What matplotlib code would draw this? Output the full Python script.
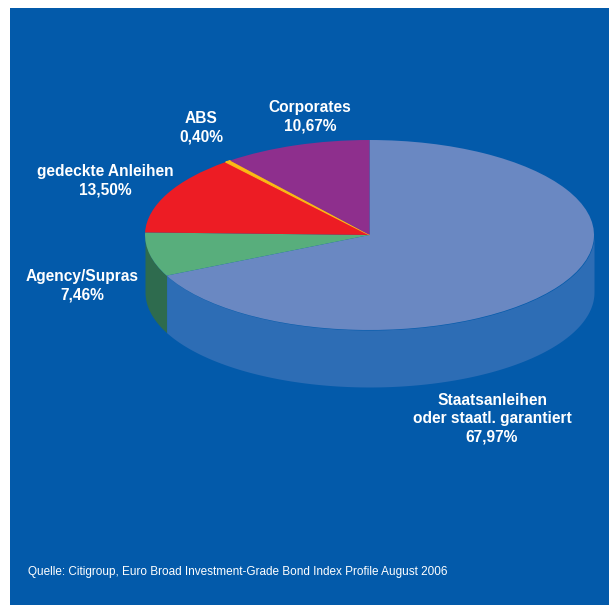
import numpy as np
import matplotlib
matplotlib.use("Agg")
import matplotlib.pyplot as plt
from matplotlib.patches import Rectangle

plt.rcParams['font.family'] = ['Liberation Sans', 'DejaVu Sans']

W, H = 609, 605

labels = ["Staatsanleihen\noder staatl. garantiert\n67,97%", "Agency/Supras\n7,46%",
          "gedeckte Anleihen\n13,50%", "ABS\n0,40%", "Corporates\n10,67%"]
values = [67.97, 7.46, 13.50, 0.40, 10.67]
top_colors = ["#6a88c2", "#58ae7c", "#ed1c24", "#fdb913", "#8e2f8d"]
side_colors = ["#2d6db5", "#2e6b4e", "#b01218", "#b08010", "#5e1f5e"]
label_pos = [(492, 419), (82, 285.5), (105, 180.5), (201, 127.5), (310, 116.5)]

# pie ellipse in pixels
cx, cy, rx, ry, depth = 369.5, 235, 224.5, 95, 57

fig = plt.figure(figsize=(W / 100, H / 100), dpi=100, facecolor="white")
fig.patches.append(Rectangle((10 / W, 0), 1 - 10 / W, 1 - 8 / H, transform=fig.transFigure,
                             facecolor="#035aaa", edgecolor="none", zorder=-1))

# unit circle squashed by the axis limits
ax = fig.add_axes([0, 0, 1, 1])
ax.patch.set_alpha(0)
wedges, _ = ax.pie(values, colors=top_colors, startangle=90, counterclock=False,
                   wedgeprops={"linewidth": 0, "edgecolor": "none", "zorder": 3})
wedges[3].set_edgecolor(top_colors[3])
wedges[3].set_linewidth(0.8)
ax.set_aspect("auto")
ax.set_xlim(-cx / rx, (W - cx) / rx)
ax.set_ylim((cy - H) / ry, cy / ry)
ax.axis("off")

# side wall, only the front half of the rim shows
d = depth / ry
start = 90.0
for val, col in zip(values, side_colors):
    end = start - val * 3.6
    lo, hi = max(end, -180), min(start, 0)
    if hi > lo:
        t = np.radians(np.linspace(lo, hi, 120))
        ax.fill_between(np.cos(t), np.sin(t) - d, np.sin(t), color=col, linewidth=0, zorder=2)
    start = end

for lab, (px, py) in zip(labels, label_pos):
    fig.text(px / W, 1 - py / H, lab, color="white", fontsize=11.2, fontweight="bold",
             ha="center", va="center", linespacing=1.26)

fig.text(28 / W, 1 - 572 / H, "Quelle: Citigroup, Euro Broad Investment-Grade Bond Index Profile August 2006",
         color="white", fontsize=8.45, ha="left", va="center")

fig.savefig("out.png", dpi=100, facecolor="white")
